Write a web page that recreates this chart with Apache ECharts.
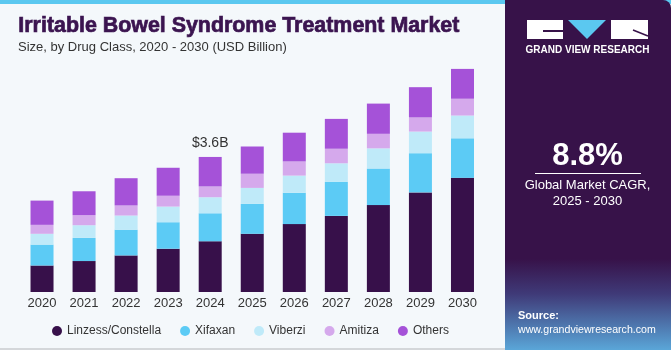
<!DOCTYPE html>
<html>
<head>
<meta charset="utf-8" />
<script src="https://cdn.jsdelivr.net/npm/echarts@6/dist/echarts.min.js"></script>
<style type="text/css">
	html, body, #main {
	width: 100%;
	height: 100%;
	margin: 0;
	background: #f4f8fb;
}
</style>
</head>
<body>
	<div id="main"></div>
	<script>
		var years = ['2020', '2021', '2022', '2023', '2024', '2025', '2026', '2027', '2028', '2029', '2030'];
		var linzess = [0.71, 0.83, 0.98, 1.16, 1.36, 1.56, 1.82, 2.04, 2.33, 2.67, 3.06];
		var xifaxan = [0.56, 0.62, 0.69, 0.71, 0.75, 0.80, 0.84, 0.91, 0.98, 1.05, 1.06];
		var viberzi = [0.29, 0.34, 0.38, 0.42, 0.43, 0.43, 0.46, 0.50, 0.54, 0.58, 0.61];
		var amitiza = [0.24, 0.27, 0.27, 0.29, 0.29, 0.38, 0.38, 0.39, 0.39, 0.38, 0.45];
		var others = [0.65, 0.64, 0.73, 0.75, 0.79, 0.73, 0.77, 0.80, 0.81, 0.81, 0.80];
		var names = ['Linzess/Constella', 'Xifaxan', 'Viberzi', 'Amitiza', 'Others'];
		var colors = ['#37104a', '#5ccbf5', '#bfeaf9', '#d5a9ec', '#a552d8'];
		var callout = {index: 4, text: '$3.6B'};

		var chart = echarts.init(document.getElementById('main'));
		var font = 'Liberation Sans';

		var seriesData = [linzess, xifaxan, viberzi, amitiza, others];
		var series = seriesData.map(function (arr, i) {
			var data = arr.slice();
			if (i === seriesData.length - 1) {
				data = arr.map(function (v, j) {
					if (j !== callout.index) return v;
					return {
						value: v,
						label: {
							show: true, position: 'top', distance: 7,
							formatter: callout.text, color: '#333',
							fontSize: 14, fontFamily: font
						}
					};
				});
			}
			return {
				name: names[i],
				type: 'bar',
				stack: 'total',
				barWidth: 23,
				itemStyle: {color: colors[i]},
				emphasis: {disabled: true},
				data: data
			};
		});

		var option = {
			backgroundColor: '#f4f8fb',
			animation: false,
			textStyle: {fontFamily: font},
			grid: {left: 21, right: 187.5, top: 49.5, bottom: 58},
			xAxis: {
				type: 'category',
				data: years,
				axisLine: {show: false},
				axisTick: {show: false},
				axisLabel: {color: '#333', fontSize: 13, margin: 5, fontFamily: font}
			},
			yAxis: {type: 'value', min: 0, max: 6.5, show: false},
			legend: {
				data: names,
				left: 47,
				top: 320,
				icon: 'circle',
				itemWidth: 10,
				itemHeight: 10,
				itemGap: 19,
				textStyle: {color: '#333', fontSize: 12, fontFamily: font}
			},
			series: series,
			graphic: [
				{type: 'rect', shape: {x: 0, y: 0, width: 671, height: 4}, style: {fill: '#5bc8f0'}},
				{type: 'rect', shape: {x: 0, y: 348, width: 505, height: 2}, style: {fill: '#d4d7da'}},
				{type: 'text', left: 18, top: 15, style: {text: 'Irritable Bowel Syndrome Treatment Market', fill: '#3b1450', stroke: '#3b1450', lineWidth: 0.7, font: 'bold 21.4px "Liberation Sans"'}},
				{type: 'text', left: 18, top: 41, style: {text: 'Size, by Drug Class, 2020 - 2030 (USD Billion)', fill: '#333', font: '13px "Liberation Sans"'}},
				// right panel
				{type: 'rect', shape: {x: 505, y: 0, width: 166, height: 350, r: [0, 8, 0, 0]}, style: {
					fill: new echarts.graphic.LinearGradient(0, 0, 0, 1, [
						{offset: 0, color: '#371249'},
						{offset: 0.74, color: '#371249'},
						{offset: 0.84, color: '#3f3a78'},
						{offset: 1, color: '#5aa6d8'}
					])
				}},
				// logo
				{type: 'rect', shape: {x: 527, y: 20, width: 36, height: 19}, style: {fill: '#ffffff'}},
				{type: 'rect', shape: {x: 543, y: 30, width: 20, height: 2}, style: {fill: '#371249'}},
				{type: 'polygon', shape: {points: [[568, 20], [606, 20], [587, 39]]}, style: {fill: '#5bc8f0'}},
				{type: 'rect', shape: {x: 611, y: 20, width: 37, height: 19}, style: {fill: '#ffffff'}},
				{type: 'line', shape: {x1: 633, y1: 30, x2: 648, y2: 36}, style: {stroke: '#371249', lineWidth: 1.5}},
				{type: 'text', x: 587.5, y: 50, style: {text: 'GRAND VIEW RESEARCH', fill: '#ffffff', font: 'bold 10px "Liberation Sans"', align: 'center', verticalAlign: 'middle'}},
				{type: 'text', x: 587.5, y: 156, style: {text: '8.8%', fill: '#ffffff', font: 'bold 31px "Liberation Sans"', align: 'center', verticalAlign: 'middle'}},
				{type: 'rect', shape: {x: 535, y: 173, width: 106, height: 1}, style: {fill: '#ffffff'}},
				{type: 'text', x: 587.5, y: 185, style: {text: 'Global Market CAGR,', fill: '#ffffff', font: '13px "Liberation Sans"', align: 'center', verticalAlign: 'middle'}},
				{type: 'text', x: 587.5, y: 201, style: {text: '2025 - 2030', fill: '#ffffff', font: '13px "Liberation Sans"', align: 'center', verticalAlign: 'middle'}},
				{type: 'text', x: 518, y: 316, style: {text: 'Source:', fill: '#ffffff', font: 'bold 11px "Liberation Sans"', verticalAlign: 'middle'}},
				{type: 'text', x: 518, y: 330, style: {text: 'www.grandviewresearch.com', fill: '#ffffff', font: '10.6px "Liberation Sans"', verticalAlign: 'middle'}}
			]
		};

		chart.setOption(option);

		window.onresize = function() {
			chart.resize();
		}
	</script>
</body>
</html>
